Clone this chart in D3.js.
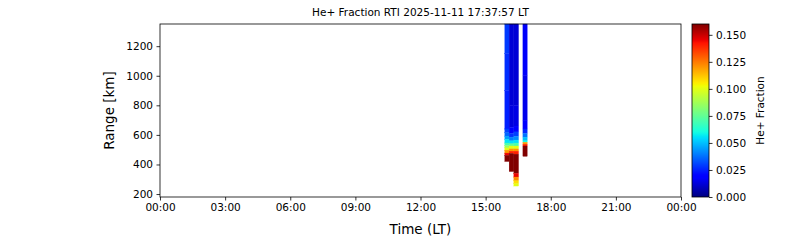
<!DOCTYPE html>
<html>
<head>
<meta charset="utf-8">
<script src="https://d3js.org/d3.v7.min.js"></script>
<style>
  body { margin: 0; background: #fff; }
  text { font-family: "DejaVu Sans", sans-serif; fill: #000; }
</style>
</head>
<body>
<svg id="chart" width="800" height="240"></svg>
<script>
// Profile start / end times (local time) on 2025-11-11
const colStart = ["15:53", "16:05", "16:18", "16:43"];
const colEnd = ["16:05", "16:18", "16:31", "16:55"];

// Each profile: [top km, bottom km, He+ fraction]
const profile1 = [
  [1350, 1150, 0.029], [1150, 900, 0.027], [900, 640, 0.025], [640, 615, 0.03],
  [615, 592, 0.036], [592, 570, 0.045], [570, 545, 0.056], [545, 528, 0.07],
  [528, 512, 0.085], [512, 497, 0.1], [497, 477, 0.12], [477, 462, 0.145],
  [462, 420, 0.165]
];
const profile2 = [
  [1350, 800, 0.012], [800, 650, 0.013], [650, 610, 0.018], [610, 585, 0.028],
  [585, 560, 0.04], [560, 540, 0.055], [540, 525, 0.075], [525, 505, 0.1],
  [505, 490, 0.12], [490, 475, 0.14], [475, 352, 0.165]
];
const profile3 = [
  [1350, 800, 0.012], [800, 660, 0.014], [660, 620, 0.02], [620, 590, 0.03],
  [590, 565, 0.042], [565, 545, 0.055], [545, 525, 0.07], [525, 505, 0.1],
  [505, 490, 0.12], [490, 470, 0.14], [470, 340, 0.165], [340, 315, 0.145],
  [315, 290, 0.122], [290, 270, 0.108], [270, 254, 0.1]
];
const profile4 = [
  [1350, 1000, 0.017], [1000, 700, 0.015], [700, 640, 0.019], [640, 610, 0.026],
  [610, 585, 0.038], [585, 560, 0.05], [560, 550, 0.06], [550, 537, 0.12],
  [537, 525, 0.14], [525, 455, 0.165]
];
const profiles = [profile1, profile2, profile3, profile4];

const yTicks = [200, 400, 600, 800, 1000, 1200];
const cbTicks = [0, 0.025, 0.05, 0.075, 0.1, 0.125, 0.15];

// matplotlib "jet"
const jetR = [[0, 0], [0.35, 0], [0.66, 1], [0.89, 1], [1, 0.5]];
const jetG = [[0, 0], [0.125, 0], [0.375, 1], [0.64, 1], [0.91, 0], [1, 0]];
const jetB = [[0, 0.5], [0.11, 1], [0.34, 1], [0.65, 0], [1, 0]];
function channel(segs, t) {
  for (let i = 1; i < segs.length; i++) {
    if (t <= segs[i][0]) {
      const a = segs[i - 1], b = segs[i];
      return a[1] + (b[1] - a[1]) * (t - a[0]) / (b[0] - a[0]);
    }
  }
  return segs[segs.length - 1][1];
}
function jet(t) {
  t = Math.max(0, Math.min(1, t));
  return d3.rgb(channel(jetR, t) * 255, channel(jetG, t) * 255, channel(jetB, t) * 255).toString();
}

const vmin = 0, vmax = 0.16;
const svg = d3.select("#chart");
const plot = { left: 160, right: 681, top: 24, bottom: 197 };
const day = d3.timeParse("%Y-%m-%d %H:%M");

const x = d3.scaleTime()
  .domain([day("2025-11-11 00:00"), day("2025-11-12 00:00")])
  .range([plot.left, plot.right]);
const y = d3.scaleLinear().domain([180, 1350]).range([plot.bottom, plot.top]);
const color = v => jet((v - vmin) / (vmax - vmin));

// Cells
const cells = [];
profiles.forEach((p, i) => {
  p.forEach(s => cells.push({
    t0: day("2025-11-11 " + colStart[i]),
    t1: day("2025-11-11 " + colEnd[i]),
    top: s[0], bot: s[1], v: s[2]
  }));
});
svg.append("g").selectAll("rect").data(cells).enter().append("rect")
  .attr("x", d => x(d.t0))
  .attr("width", d => x(d.t1) - x(d.t0))
  .attr("y", d => y(d.top))
  .attr("height", d => y(d.bot) - y(d.top))
  .attr("fill", d => color(d.v))
  .attr("stroke", d => color(d.v))
  .attr("stroke-width", 0.3);

// Axes
const xAxis = d3.axisBottom(x)
  .ticks(d3.timeHour.every(3))
  .tickFormat(d3.timeFormat("%H:%M"))
  .tickSizeOuter(0).tickSize(3.5).tickPadding(3.5);
const gx = svg.append("g").attr("transform", `translate(0,${plot.bottom})`).call(xAxis);
const yAxis = d3.axisLeft(y).tickValues(yTicks).tickFormat(d3.format("d"))
  .tickSizeOuter(0).tickSize(3.5).tickPadding(3.5);
const gy = svg.append("g").attr("transform", `translate(${plot.left},0)`).call(yAxis);
[gx, gy].forEach(g => {
  g.select(".domain").remove();
  g.selectAll("text").style("font-size", "10.5px").style("font-family", '"DejaVu Sans", sans-serif');
  g.selectAll("line").attr("stroke", "#000").attr("stroke-width", 0.8);
});

// Frame
svg.append("rect")
  .attr("x", plot.left).attr("y", plot.top)
  .attr("width", plot.right - plot.left).attr("height", plot.bottom - plot.top)
  .attr("fill", "none").attr("stroke", "#000").attr("stroke-width", 0.8);

// Labels
svg.append("text")
  .attr("x", (plot.left + plot.right) / 2).attr("y", 16)
  .attr("text-anchor", "middle").style("font-size", "10.5px")
  .text("He+ Fraction RTI 2025-11-11 17:37:57 LT");
svg.append("text")
  .attr("x", (plot.left + plot.right) / 2).attr("y", 234)
  .attr("text-anchor", "middle").style("font-size", "13.5px")
  .text("Time (LT)");
svg.append("text")
  .attr("transform", `translate(114,${(plot.top + plot.bottom) / 2}) rotate(-90)`)
  .attr("text-anchor", "middle").style("font-size", "13.5px")
  .text("Range [km]");

// Colorbar
const cb = { left: 692, right: 709 };
const cy = d3.scaleLinear().domain([vmin, vmax]).range([plot.bottom, plot.top]);
const grad = svg.append("defs").append("linearGradient")
  .attr("id", "jetgrad").attr("x1", 0).attr("y1", 1).attr("x2", 0).attr("y2", 0);
grad.selectAll("stop").data(d3.range(0, 1.0001, 0.01)).enter().append("stop")
  .attr("offset", d => d).attr("stop-color", d => jet(d));
svg.append("rect")
  .attr("x", cb.left).attr("y", plot.top)
  .attr("width", cb.right - cb.left).attr("height", plot.bottom - plot.top)
  .attr("fill", "url(#jetgrad)").attr("stroke", "#000").attr("stroke-width", 0.8);
const cAxis = d3.axisRight(cy).tickValues(cbTicks).tickFormat(d3.format(".3f"))
  .tickSizeOuter(0).tickSize(3.5).tickPadding(3.5);
const gc = svg.append("g").attr("transform", `translate(${cb.right},0)`).call(cAxis);
gc.select(".domain").remove();
gc.selectAll("text").style("font-size", "10.5px").style("font-family", '"DejaVu Sans", sans-serif');
gc.selectAll("line").attr("stroke", "#000").attr("stroke-width", 0.8);
svg.append("text")
  .attr("transform", `translate(764,${(plot.top + plot.bottom) / 2}) rotate(-90)`)
  .attr("text-anchor", "middle").style("font-size", "10.5px")
  .text("He+ Fraction");
</script>
</body>
</html>
